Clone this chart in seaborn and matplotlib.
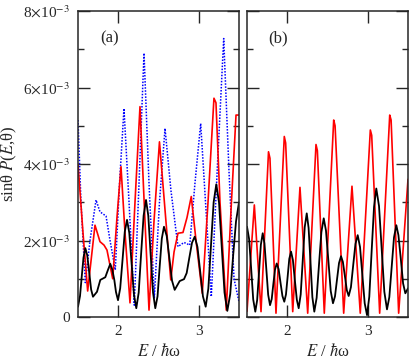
import numpy as np
import pandas as pd
import matplotlib
matplotlib.use("Agg")
import matplotlib.pyplot as plt
import seaborn as sns

# ---- data (energy in units of hbar*omega, values in 1e-3) ----
a_red_x = [1.500, 1.562, 1.620, 1.711, 1.773, 1.823, 1.860, 1.931, 1.984, 2.034,
           2.084, 2.146, 2.208, 2.270, 2.326, 2.382, 2.444, 2.512, 2.581, 2.652,
           2.693, 2.742, 2.804, 2.854, 2.907, 2.966, 3.044, 3.115, 3.189, 3.214,
           3.264, 3.342, 3.401, 3.463, 3.500]
a_red_y = [4.00, 2.20, 0.68, 2.40, 1.97, 1.88, 1.75, 1.00, 2.60, 3.93,
           2.20, 0.37, 3.00, 5.50, 2.80, 0.18, 2.50, 4.58, 2.80, 0.97,
           1.70, 2.19, 2.21, 2.60, 3.15, 2.00, 0.62, 3.00, 5.72, 5.60,
           3.00, 0.18, 2.80, 5.28, 5.28]

a_blue_x = [1.500, 1.537, 1.591, 1.649, 1.724, 1.773, 1.848, 1.898, 1.963, 2.016,
            2.071, 2.134, 2.199, 2.258, 2.320, 2.382, 2.448, 2.512, 2.581, 2.655,
            2.742, 2.817, 2.888, 2.953, 3.024, 3.090, 3.156, 3.233, 3.310, 3.376,
            3.438, 3.500]
a_blue_y = [5.15, 3.00, 0.90, 2.00, 3.06, 2.75, 2.64, 2.00, 1.23, 3.50,
            5.45, 3.00, 0.31, 3.50, 6.90, 3.50, 0.50, 3.00, 4.93, 3.30,
            1.84, 1.95, 1.88, 3.50, 5.06, 2.80, 0.53, 4.00, 7.28, 3.80,
            1.00, 0.40]

a_black_x = [1.500, 1.525, 1.546, 1.568, 1.591, 1.614, 1.639, 1.663, 1.686, 1.736,
             1.777, 1.839, 1.870, 1.901, 1.926, 1.951, 1.972, 1.997, 2.024, 2.053,
             2.081, 2.109, 2.137, 2.166, 2.196, 2.224, 2.254, 2.284, 2.315, 2.345,
             2.373, 2.402, 2.432, 2.460, 2.488, 2.514, 2.541, 2.568, 2.602, 2.635,
             2.668, 2.701, 2.763, 2.817, 2.850, 2.883, 2.916, 2.950, 2.984, 3.018,
             3.052, 3.086, 3.119, 3.152, 3.185, 3.218, 3.252, 3.286, 3.320, 3.355,
             3.391, 3.427, 3.463, 3.500]
a_black_y = [0.27, 0.55, 1.05, 1.55, 1.80, 1.62, 1.17, 0.72, 0.53, 0.66,
             0.97, 1.04, 1.22, 1.39, 1.24, 0.97, 0.65, 0.44, 0.75, 1.49,
             2.23, 2.54, 2.20, 1.39, 0.57, 0.23, 0.64, 1.65, 2.65, 3.06,
             2.65, 1.65, 0.64, 0.23, 0.54, 1.30, 2.05, 2.36, 2.12, 1.54,
             0.95, 0.71, 0.94, 0.99, 1.15, 1.55, 1.94, 2.10, 1.83, 1.19,
             0.54, 0.27, 0.74, 1.87, 3.00, 3.47, 2.99, 1.82, 0.64, 0.16,
             0.60, 1.60, 2.50, 3.00]

b_red_x = [1.500, 1.591, 1.674, 1.767, 1.785, 1.860, 1.963, 1.980, 2.068, 2.158,
           2.254, 2.357, 2.374, 2.460, 2.577, 2.594, 2.701, 2.804, 2.907, 3.032,
           3.049, 3.148, 3.273, 3.290, 3.384, 3.500]
b_red_y = [0.15, 2.93, 0.14, 4.32, 4.15, 0.10, 4.72, 4.55, 0.14, 3.39,
           0.10, 4.51, 4.35, 0.10, 5.15, 5.00, 0.10, 3.42, 0.10, 4.89,
           4.75, 0.10, 5.28, 5.15, 0.10, 3.60]

b_black_x = [1.500, 1.526, 1.552, 1.577, 1.603, 1.626, 1.649, 1.672, 1.695, 1.717,
             1.740, 1.763, 1.786, 1.807, 1.827, 1.848, 1.869, 1.893, 1.916, 1.940,
             1.963, 1.984, 2.005, 2.025, 2.047, 2.070, 2.094, 2.119, 2.142, 2.167,
             2.192, 2.217, 2.242, 2.265, 2.289, 2.312, 2.336, 2.365, 2.394, 2.424,
             2.453, 2.481, 2.511, 2.540, 2.568, 2.593, 2.618, 2.643, 2.668, 2.691,
             2.716, 2.740, 2.763, 2.791, 2.819, 2.847, 2.875, 2.904, 2.933, 2.962,
             2.991, 3.019, 3.048, 3.078, 3.106, 3.140, 3.173, 3.206, 3.239, 3.268,
             3.297, 3.326, 3.355, 3.381, 3.411, 3.439, 3.467, 3.500]
b_black_y = [2.36, 2.04, 1.25, 0.46, 0.14, 0.44, 1.17, 1.89, 2.19, 1.92,
             1.25, 0.58, 0.31, 0.47, 0.86, 1.24, 1.40, 1.25, 0.90, 0.55,
             0.40, 0.59, 1.06, 1.52, 1.71, 1.49, 0.97, 0.45, 0.23, 0.59,
             1.47, 2.35, 2.71, 2.33, 1.43, 0.52, 0.14, 0.50, 1.36, 2.22,
             2.58, 2.26, 1.47, 0.68, 0.36, 0.54, 0.98, 1.41, 1.59, 1.44,
             1.07, 0.70, 0.55, 0.78, 1.35, 1.91, 2.14, 1.83, 1.10, 0.36,
             0.05, 0.53, 1.71, 2.88, 3.36, 2.90, 1.78, 0.66, 0.20, 0.52,
             1.30, 2.08, 2.40, 2.14, 1.51, 0.88, 0.62, 0.75]

ytick_vals = [0, 2, 4, 6, 8]
ytick_labels = ["0", r"2$\times$10$^{-3}$", r"4$\times$10$^{-3}$",
                r"6$\times$10$^{-3}$", r"8$\times$10$^{-3}$"]
xtick_vals = [2, 3]

sns.set_style("ticks")
plt.rcParams["font.family"] = ["Liberation Serif"]
plt.rcParams["mathtext.fontset"] = "stix"
plt.rcParams["font.size"] = 11

fig = plt.figure(figsize=(4.11, 3.60), dpi=100)
ax_a = fig.add_axes([0.1898, 0.1194, 0.3917, 0.85])
ax_b = fig.add_axes([0.6010, 0.1194, 0.3917, 0.85])


def draw(ax, x, y, **kw):
    df = pd.DataFrame({"E": x, "P": np.array(y) * 1e-3})
    sns.lineplot(data=df, x="E", y="P", ax=ax, estimator=None, sort=False, **kw)


draw(ax_a, a_blue_x, a_blue_y, color="#0000ff", linewidth=1.1, linestyle=(0, (1, 1)))
draw(ax_a, a_red_x, a_red_y, color="#ff0000", linewidth=1.2)
draw(ax_a, a_black_x, a_black_y, color="black", linewidth=1.3)

draw(ax_b, b_red_x, b_red_y, color="#ff0000", linewidth=1.2)
draw(ax_b, b_black_x, b_black_y, color="black", linewidth=1.3)

for ax, tag in [(ax_a, "(a)"), (ax_b, "(b)")]:
    ax.set_xlim(1.5, 3.5)
    ax.set_ylim(0, 8e-3)
    ax.set_xticks(xtick_vals)
    ax.set_xticklabels([str(v) for v in xtick_vals])
    ax.set_yticks([v * 1e-3 for v in ytick_vals])
    ax.set_yticks([v * 1e-3 for v in [1, 3, 5, 7]], minor=True)
    ax.tick_params(which="both", direction="in", top=True, right=True, width=1.0)
    ax.tick_params(which="major", length=8.6, pad=6)
    ax.tick_params(which="minor", length=4.3)
    for s in ax.spines.values():
        s.set_linewidth(1.1)
    ax.set_xlabel(r"$E$ / $\hbar$ω", fontsize=12, labelpad=3)
    ax.text(0.195, 0.912, tag, transform=ax.transAxes, ha="center", va="center", fontsize=12)

ax_a.set_yticklabels(ytick_labels)
ax_a.set_ylabel(r"sinθ $P$($E$,θ)", fontsize=12, labelpad=3)
ax_b.set_yticklabels([])
ax_b.set_ylabel("")

fig.savefig("out.png", dpi=100)
